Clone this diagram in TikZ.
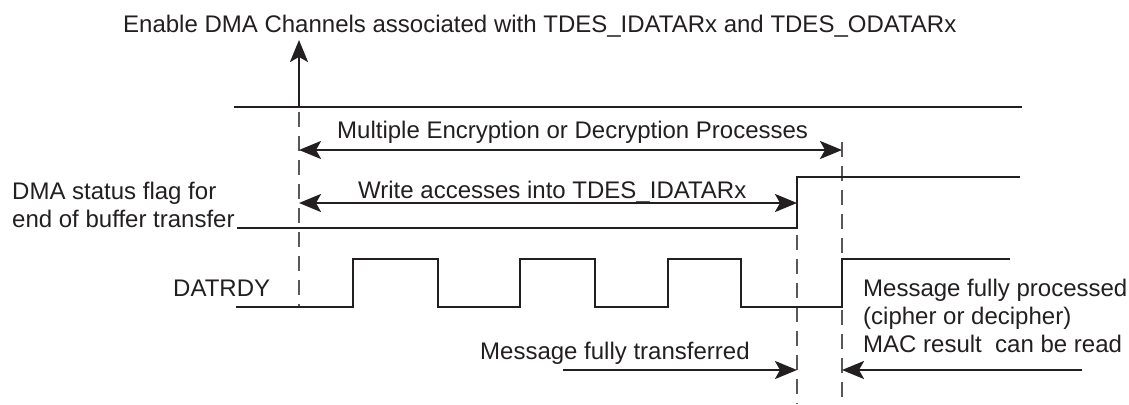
\documentclass[tikz,border=0pt]{standalone}
\usepackage{fontspec}
\setmainfont{Liberation Sans}
\usetikzlibrary{arrows.meta}
\definecolor{ink}{HTML}{231F20}
\begin{document}
\begin{tikzpicture}[x=1pt,y=-1pt,
  sig/.style={draw=ink, line width=2.6pt, line join=miter},
  guide/.style={draw=ink!75, line width=1.4pt, dash pattern=on 15pt off 9pt},
  tip/.tip={Stealth[length=22pt,width=18pt,inset=5pt]},
  arr/.style={draw=ink, line width=2.6pt, -tip},
  darr/.style={draw=ink, line width=2.6pt, tip-tip},
  lbl/.style={font=\fontsize{24}{28}\selectfont, text=ink, inner sep=0pt, anchor=base west},
]
\useasboundingbox (0,0) rectangle (1129,404);

% labels
\node[lbl] (title) at (123,33) {Enable DMA Channels associated with TDES\_IDATARx and TDES\_ODATARx};
\node[lbl] (multi) at (337,138) {Multiple Encryption or Decryption Processes};
\node[lbl] (write) at (358,198) {Write accesses into TDES\_IDATARx};
\node[lbl] (dma1) at (12,199) {DMA status flag for};
\node[lbl] (dma2) at (12,227) {end of buffer transfer};
\node[lbl] (datrdy) at (173,296) {DATRDY};
\node[lbl] (transf) at (480,359) {Message fully transferred};
\node[lbl] (proc1) at (863,296) {Message fully processed};
\node[lbl] (proc2) at (863,324) {(cipher or decipher)};
\node[lbl] (proc3) at (863,352) {MAC result\ \ can be read};

% coordinates
\coordinate (enA) at (299,107);
\coordinate (enTip) at (299,40);
\coordinate (topL) at (234,107);
\coordinate (topR) at (1022,107);
\coordinate (g1top) at (299,112);
\coordinate (g1bot) at (299,307);
\coordinate (g2top) at (797,235);
\coordinate (g2bot) at (797,404);
\coordinate (g3top) at (842,142);
\coordinate (g3bot) at (842,404);
\coordinate (m1) at (299,150);
\coordinate (m2) at (842,150);
\coordinate (w1) at (299,203);
\coordinate (w2) at (797,203);
\coordinate (t1) at (563,370);
\coordinate (t2) at (797,370);
\coordinate (p1) at (1082,370);
\coordinate (p2) at (842,370);

% guides
\draw[guide] (g1top) -- (g1bot);
\draw[guide] (g2top) -- (g2bot);
\draw[guide] (g3top) -- (g3bot);

% enable line and pulse arrow
\draw[sig] (topL) -- (topR);
\draw[arr] (enA) -- (enTip);

% DMA flag
\draw[sig] (237,228) -- (797,228) -- (797,177) -- (1020,177);

% DATRDY
\draw[sig] (236,307) -- (353,307) -- (353,259) -- (438,259) -- (438,307)
  -- (520,307) -- (520,259) -- (595,259) -- (595,307)
  -- (668,307) -- (668,259) -- (741,259) -- (741,307)
  -- (842,307) -- (842,259) -- (1010,259);

% span arrows
\draw[darr] (m1) -- (m2);
\draw[darr] (w1) -- (w2);
\draw[arr] (t1) -- (t2);
\draw[arr] (p1) -- (p2);
\end{tikzpicture}
\end{document}
